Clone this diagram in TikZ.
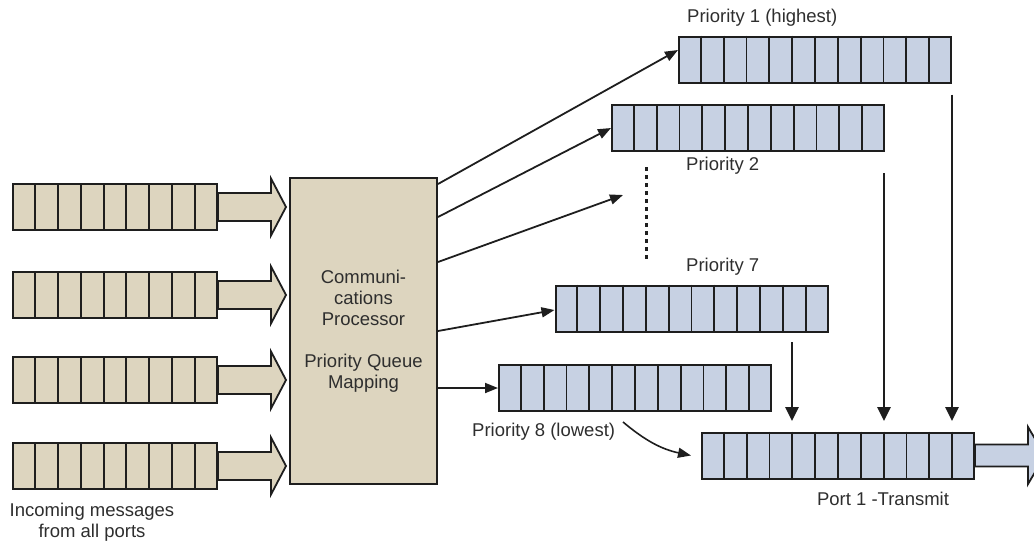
\documentclass[tikz,border=0pt]{standalone}
\usepackage{fontspec}
\setmainfont{Liberation Sans}
\usetikzlibrary{calc,arrows.meta}
\definecolor{qbeige}{HTML}{DDD5BF}
\definecolor{qblue}{HTML}{C7D1E3}
\definecolor{ink}{HTML}{1E1E1E}
\definecolor{txt}{HTML}{2E2E2E}
\tikzset{
  queuebox/.style={draw=ink, line width=2pt, minimum height=46pt, inner sep=0pt, anchor=center},
  inqueue/.style={queuebox, fill=qbeige, minimum width=204pt},
  prqueue/.style={queuebox, fill=qblue, minimum width=272pt},
  cellline/.style={draw=ink, line width=1.9pt},
  feed/.style={draw=ink, line width=1.8pt, -{Triangle[length=13pt,width=10pt]}},
  drop/.style={draw=ink, line width=2.6pt, -{Triangle[length=14pt,width=13pt]}},
  blockarrow/.style={draw=ink, line width=1.8pt, line join=miter},
  lbl/.style={font=\fontsize{18.5}{21}\selectfont, text=txt, inner sep=0pt},
}
% cell dividers of a queue node: #1 = node, #2 = number of cells
\newcommand{\qcells}[2]{%
  \foreach \k in {1,...,\numexpr#2-1\relax}{%
    \draw[cellline] ($(#1.north west)!\k/#2!(#1.north east)$) -- ($(#1.south west)!\k/#2!(#1.south east)$);
  }%
}
\begin{document}
\begin{tikzpicture}[x=1pt,y=-1pt]
\useasboundingbox (0,0) rectangle (1034,542);
\clip (0,0) rectangle (1034,542);

% incoming queues
\foreach \n/\yy in {1/207,2/295,3/380,4/466}{
  \node[inqueue] (in\n) at (115,\yy) {};
  \qcells{in\n}{9}
  \path[blockarrow, fill=qbeige]
    ($(in\n.east)+(0,-14)$) -- ++(53,0) -- ++(0,-14.5) -- ($(in\n.east)+(68,0)$)
    -- ($(in\n.east)+(53,28.5)$) -- ++(0,-14.5) -- ($(in\n.east)+(0,14)$) -- cycle;
}

% processor
\node[draw=ink, line width=2pt, fill=qbeige, minimum width=147pt, minimum height=306pt,
      inner sep=0pt, align=center, lbl] (proc) at (363.5,331)
  {Communi-\\cations\\Processor\\[21pt]Priority Queue\\Mapping};

% priority queues
\node[prqueue] (p1) at (815,59.5) {};
\node[prqueue] (p2) at (748,128) {};
\node[prqueue] (p7) at (691.5,308.5) {};
\node[prqueue] (p8) at (635,388) {};
\node[prqueue] (port) at (838,455.5) {};
\foreach \q in {p1,p2,p7,p8,port}{\qcells{\q}{12}}

% transmit arrow
\path[blockarrow, fill=qblue]
  ($(port.east)+(0,-11)$) -- ++(53,0) -- ++(0,-17.5) -- ($(port.east)+(70,0)$)
  -- ($(port.east)+(53,28.5)$) -- ++(0,-17.5) -- ($(port.east)+(0,11)$) -- cycle;

% labels
\node[lbl, anchor=west] (l1) at (687,18) {Priority 1 (highest)};
\node[lbl, anchor=west] (l2) at (686,166) {Priority 2};
\node[lbl, anchor=west] (l7) at (686,267) {Priority 7};
\node[lbl, anchor=west] (l8) at (472,432) {Priority 8 (lowest)};
\node[lbl] (lport) at (883,499) {Port 1 -Transmit};
\node[lbl, align=center] (lin) at (92,522) {Incoming messages\\from all ports};

% processor outputs
\coordinate (o1) at ($(proc.east)+(0,-147)$);
\coordinate (o2) at ($(proc.east)+(0,-114)$);
\coordinate (o3) at ($(proc.east)+(0,-69)$);
\coordinate (o4) at ($(proc.east)+(0,0)$);
\coordinate (o5) at (p8.west -| proc.east);
\coordinate (mid) at (623,195);
\draw[feed] (o1) -- ($(p1.west)+(0,-9.5)$);
\draw[feed] (o2) -- (p2.west);
\draw[feed] (o3) -- (mid);
\draw[feed] (o4) -- ($(p7.west)+(0,1.5)$);
\draw[feed] (o5) -- (p8.west);

% omitted queues
\coordinate (dtop) at (646,167);
\coordinate (dbot) at (646,263);
\draw[ink, line width=3pt, dash pattern=on 3.5pt off 4.5pt] (dtop) -- (dbot);

% merge into the transmit queue
\coordinate (d1s) at ($(p1.south east)+(0,11)$);
\coordinate (d2s) at ($(p2.south east)+(-1,21)$);
\coordinate (d7s) at (792,342);
\draw[drop] (d1s) -- (d1s |- 0,421);
\draw[drop] (d2s) -- (d2s |- 0,421);
\draw[drop] (d7s) -- (d7s |- 0,421);
\coordinate (cs) at (623,422);
\draw[feed, line width=1.6pt] (cs) to[out=-40, in=168] ($(port.west)+(-10,0)$);
\end{tikzpicture}
\end{document}
